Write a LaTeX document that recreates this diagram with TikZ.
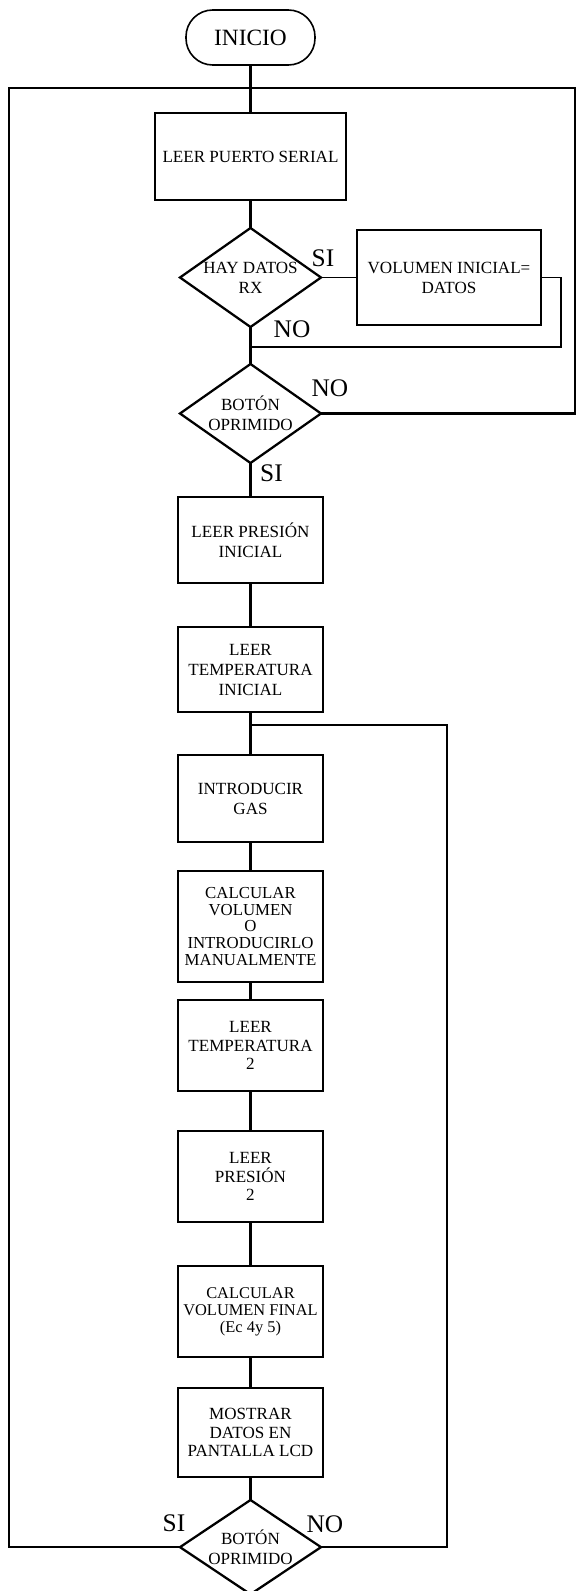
\documentclass[tikz,border=0pt]{standalone}
\usepackage{fontspec}
\setmainfont{Liberation Serif}
\usepackage{tikz}
\usetikzlibrary{shapes.geometric}
\usetikzlibrary{positioning}

\newcommand{\boxfont}{\fontsize{12.8}{15}\selectfont}
\newcommand{\lblfont}{\fontsize{19}{19}\selectfont}

\begin{document}
\begin{tikzpicture}[x=0.75pt,y=-0.75pt,line width=1.7pt,outer sep=0pt,
  box/.style={rectangle,draw,minimum width=108.75pt,inner sep=1.5pt,align=center,font=\boxfont},
  decision/.style={diamond,draw,aspect=1.42,inner sep=0pt,minimum width=105.75pt,minimum height=74.25pt,align=center,font=\boxfont},
  lbl/.style={inner sep=0pt,font=\lblfont}]
\useasboundingbox (0,0) rectangle (576,1591);
\node [rectangle,rounded corners=20pt,draw,line width=1.2pt,minimum width=96.75pt,minimum height=41.25pt,font=\fontsize{17.5}{17.5}\selectfont] (inicio) at (250.5,37.5) {INICIO};
\node [box,below=36pt,at=(inicio.south),minimum width=143.25pt,minimum height=65.25pt] (b1) {LEER PUERTO SERIAL};
\node [decision,below=21pt,at=(b1.south)] (d1) {HAY DATOS\\RX};
\node [box,right=27pt,at=(d1.east),minimum width=138pt,minimum height=71.25pt,line width=1.2pt] (vol) {VOLUMEN INICIAL=\\DATOS};
\node [decision,below=27.75pt,at=(d1.south)] (d2) {BOTÓN\\OPRIMIDO};
\node [box,below=25.5pt,at=(d2.south),minimum height=64.5pt] (b2) {LEER PRESIÓN\\INICIAL};
\node [box,below=33pt,at=(b2.south),minimum height=63.75pt] (b3) {LEER\\TEMPERATURA\\INICIAL};
\node [box,below=32.25pt,at=(b3.south),minimum height=65.25pt] (b4) {INTRODUCIR\\GAS};
\node [box,below=21.75pt,at=(b4.south),minimum height=83.25pt,font=\fontsize{12.6}{12.4}\selectfont] (b5) {CALCULAR\\VOLUMEN\\O\\INTRODUCIRLO\\MANUALMENTE};
\node [box,below=13.5pt,at=(b5.south),minimum height=68.25pt,font=\fontsize{12.8}{14}\selectfont] (b6) {LEER\\TEMPERATURA\\2};
\node [box,below=30pt,at=(b6.south),minimum height=68.25pt,font=\fontsize{12.8}{14}\selectfont] (b7) {LEER\\PRESIÓN\\2};
\node [box,below=33pt,at=(b7.south),minimum height=68.25pt,font=\fontsize{12.3}{12.75}\selectfont] (b8) {CALCULAR\\VOLUMEN FINAL\\(Ec 4y 5)};
\node [box,below=23.25pt,at=(b8.south),minimum height=66.75pt,font=\fontsize{12.8}{13.75}\selectfont] (b9) {MOSTRAR\\DATOS EN\\PANTALLA LCD};
\node [decision,below=17.25pt,at=(b9.south),minimum height=69pt] (d3) {BOTÓN\\OPRIMIDO};

\coordinate (jtop) at (250.5,88);
\coordinate (ltop) at (9,88);
\coordinate (rtop) at (575,88);
\coordinate (jmid) at (250.5,347);
\coordinate (jvol) at (561,347);
\coordinate (jloop) at (250.5,725);
\coordinate (rloop) at (447,725);

\draw (inicio) -- (b1);
\draw (b1) -- (d1);
\draw [line width=1.2pt] (d1) -- (vol);
\draw [line width=1.2pt] (vol.east) -| (jvol) -- (jmid);
\draw (d1) -- (d2);
\draw (d2) -- (b2);
\draw (b2) -- (b3);
\draw (b3) -- (b4);
\draw (b4) -- (b5);
\draw (b5) -- (b6);
\draw (b6) -- (b7);
\draw (b7) -- (b8);
\draw (b8) -- (b9);
\draw (b9) -- (d3);
\draw (d2.east) -| (rtop) -- (jtop);
\draw (d3.west) -| (ltop) -- (jtop);
\draw (d3.east) -| (rloop) -- (jloop);

\node [lbl] (si1) at ([shift={(2,-19.5)}]d1.east) {SI};
\node [lbl] (no1) at ([shift={(41.5,2)}]d1.south) {NO};
\node [lbl] (no2) at ([shift={(9,-25.5)}]d2.east) {NO};
\node [lbl] (si2) at ([shift={(21,10)}]d2.south) {SI};
\node [lbl] (si3) at ([shift={(-6,-23.5)}]d3.west) {SI};
\node [lbl] (no3) at ([shift={(4,-22.5)}]d3.east) {NO};
\end{tikzpicture}
\end{document}
